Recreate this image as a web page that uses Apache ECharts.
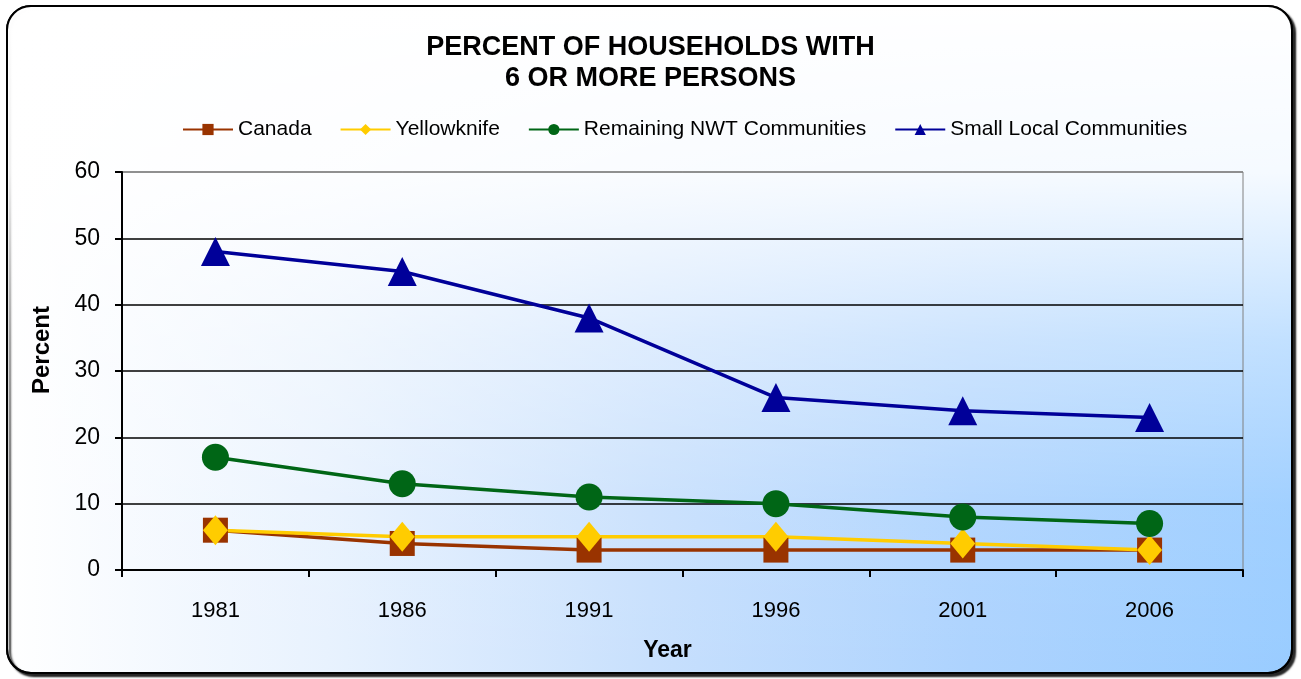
<!DOCTYPE html>
<html>
<head>
<meta charset="utf-8">
<script src="https://cdn.jsdelivr.net/npm/echarts@6/dist/echarts.min.js"></script>
<style>
html,body{margin:0;padding:0;background:#fff;}
#chart{width:1301px;height:679px;}
</style>
</head>
<body>
<div id="chart"></div>
<script>
const years = ['1981', '1986', '1991', '1996', '2001', '2006'];
const canada = [6, 4, 3, 3, 3, 3];
const yellowknife = [6, 5, 5, 5, 4, 3];
const remainingNWT = [17, 13, 11, 10, 8, 7];
const smallLocal = [48, 45, 38, 26, 24, 23];
const yTicks = [0, 10, 20, 30, 40, 50, 60];

const chart = echarts.init(document.getElementById('chart'), null, {renderer: 'canvas'});
const FONT = 'Liberation Sans, Arial, sans-serif';

const frame = {x: 7, y: 6, width: 1285, height: 667, r: 24};

const option = {
  animation: false,
  graphic: [
    {
      type: 'rect', z: -20, silent: true,
      shape: frame,
      style: {
        fill: {
          type: 'linear', x: 0, y: 0, x2: 1, y2: 0,
          colorStops: [
            {offset: 0, color: '#ffffff'},
            {offset: 0.25, color: '#e8f2fe'},
            {offset: 0.5, color: '#c8e0fd'},
            {offset: 0.75, color: '#add3fe'},
            {offset: 1, color: '#99ccff'}
          ]
        },
        stroke: '#000', lineWidth: 2,
        shadowColor: 'rgba(0,0,0,0.85)', shadowBlur: 2, shadowOffsetX: 3, shadowOffsetY: 3
      }
    },
    {
      type: 'rect', z: -19, silent: true,
      shape: frame,
      style: {
        fill: {
          type: 'linear', x: 0, y: 0, x2: 0, y2: 1,
          colorStops: [
            {offset: 0, color: 'rgba(255,255,255,1)'},
            {offset: 0.25, color: 'rgba(255,255,255,0.9)'},
            {offset: 0.5, color: 'rgba(255,255,255,0.4)'},
            {offset: 0.75, color: 'rgba(255,255,255,0.08)'},
            {offset: 1, color: 'rgba(255,255,255,0)'}
          ]
        },
        stroke: '#000', lineWidth: 2
      }
    }
  ],
  title: {
    text: 'PERCENT OF HOUSEHOLDS WITH\n6 OR MORE PERSONS',
    left: 'center',
    top: 27,
    textStyle: {fontFamily: FONT, fontSize: 27, fontWeight: 'bold', color: '#000', lineHeight: 31}
  },
  legend: {
    left: 177,
    top: 114,
    itemWidth: 50,
    itemHeight: 14,
    itemGap: 28,
    textStyle: {fontFamily: FONT, fontSize: 21, color: '#000'},
    data: ['Canada', 'Yellowknife', 'Remaining NWT Communities', 'Small Local Communities']
  },
  grid: {
    left: 122, right: 58, top: 172, bottom: 109,
    show: true, borderColor: '#808080', borderWidth: 1, backgroundColor: 'transparent'
  },
  xAxis: {
    type: 'category',
    data: years,
    boundaryGap: true,
    name: 'Year',
    nameLocation: 'middle',
    nameGap: 69,
    nameTextStyle: {fontFamily: FONT, fontSize: 23, fontWeight: 'bold', color: '#000', padding: [0, 30, 0, 0]},
    axisLine: {lineStyle: {color: '#000', width: 2}},
    axisTick: {show: true, alignWithLabel: false, length: 7, lineStyle: {color: '#000', width: 2}},
    axisLabel: {fontFamily: FONT, fontSize: 22, color: '#000', margin: 30}
  },
  yAxis: {
    type: 'value',
    min: yTicks[0],
    max: yTicks[yTicks.length - 1],
    interval: 10,
    name: 'Percent',
    nameLocation: 'middle',
    nameGap: 68,
    nameTextStyle: {fontFamily: FONT, fontSize: 24, fontWeight: 'bold', color: '#000', padding: [0, 0, 0, 42]},
    axisLine: {show: true, lineStyle: {color: '#000', width: 2}},
    axisTick: {show: true, length: 7, lineStyle: {color: '#000', width: 2}},
    axisLabel: {fontFamily: FONT, fontSize: 23, color: '#000', margin: 22},
    splitLine: {show: true, lineStyle: {color: ['#000', '#000', '#000', '#000', '#000', '#000', '#808080'], width: 1.5}}
  },
  series: [
    {
      name: 'Canada', type: 'line', data: canada,
      symbol: 'rect', symbolSize: 25,
      lineStyle: {color: '#993300', width: 3.5},
      itemStyle: {color: '#993300'}
    },
    {
      name: 'Yellowknife', type: 'line', data: yellowknife,
      symbol: 'diamond', symbolSize: [25, 30],
      lineStyle: {color: '#FFCC00', width: 3.5},
      itemStyle: {color: '#FFCC00'}
    },
    {
      name: 'Remaining NWT Communities', type: 'line', data: remainingNWT,
      symbol: 'circle', symbolSize: 27,
      lineStyle: {color: '#006616', width: 3.5},
      itemStyle: {color: '#006616'}
    },
    {
      name: 'Small Local Communities', type: 'line', data: smallLocal,
      symbol: 'triangle', symbolSize: 29,
      lineStyle: {color: '#000099', width: 3.5},
      itemStyle: {color: '#000099'}
    }
  ]
};
chart.setOption(option);
</script>
</body>
</html>
